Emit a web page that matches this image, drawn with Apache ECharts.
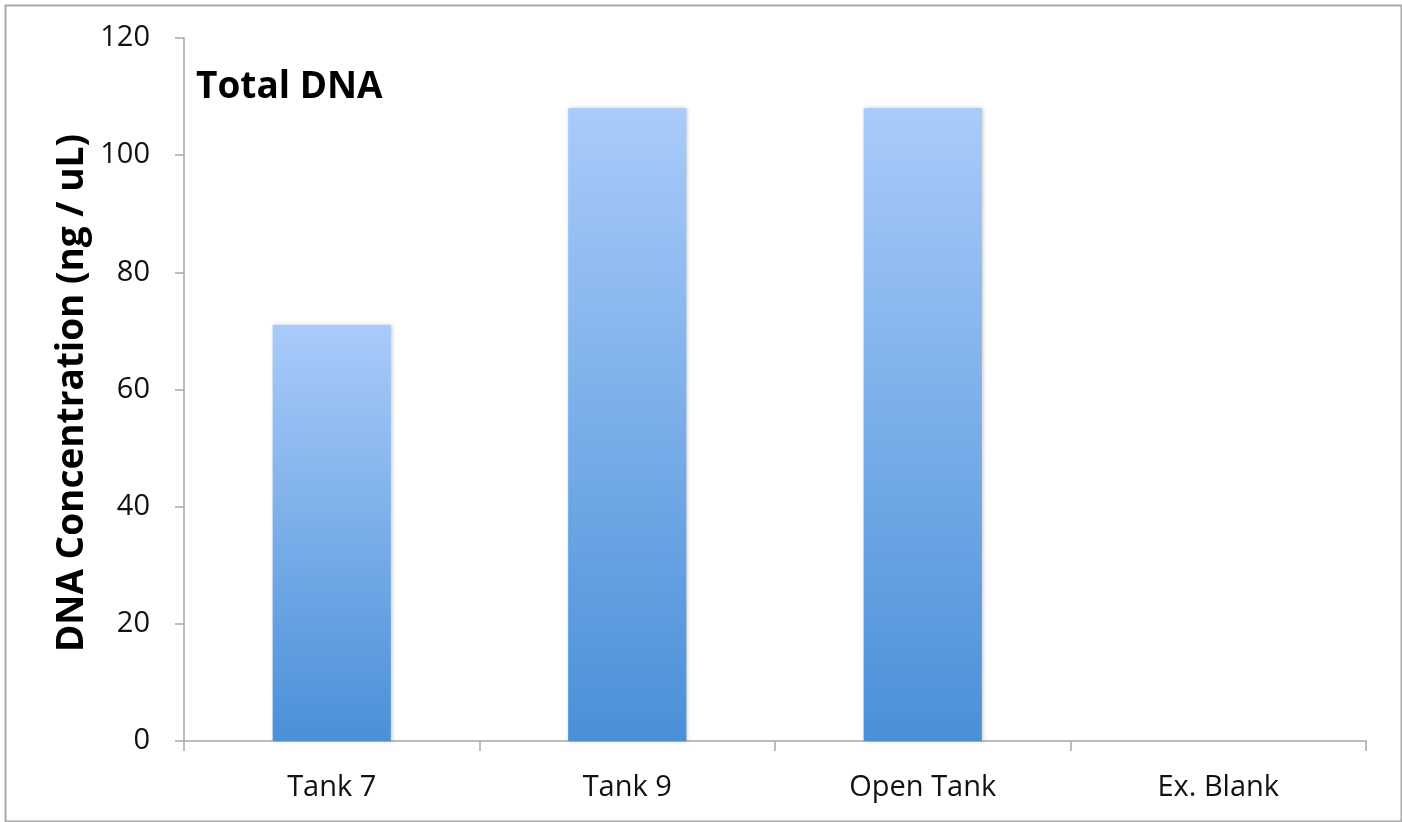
<!DOCTYPE html>
<html>
<head>
<meta charset="utf-8">
<script src="https://cdn.jsdelivr.net/npm/echarts@6/dist/echarts.min.js"></script>
<style>
  html, body { margin: 0; padding: 0; background: #fff; }
  #chart { width: 1402px; height: 822px; }
</style>
</head>
<body>
<div id="chart"></div>
<script>
// Total DNA concentration per sample
const categories = ['Tank 7', 'Tank 9', 'Open Tank', 'Ex. Blank'];
const concentration = [71, 108, 108, 0];
const yTicks = { min: 0, max: 120, interval: 20 };

const FONT = '"Open Sans", Lato, sans-serif';

const chart = echarts.init(document.getElementById('chart'), null, { renderer: 'canvas' });

chart.setOption({
  animation: false,
  backgroundColor: '#ffffff',
  grid: { left: 184, right: 36, top: 38, bottom: 81, containLabel: false },
  xAxis: {
    type: 'category',
    data: categories,
    axisLine: { lineStyle: { color: '#a6a6a6', width: 1.5 } },
    axisTick: { show: true, length: 10, alignWithLabel: false, lineStyle: { color: '#a6a6a6', width: 1.5 } },
    axisLabel: { color: '#111', fontSize: 29, fontFamily: FONT, margin: 32 },
    splitLine: { show: false }
  },
  yAxis: {
    type: 'value',
    min: yTicks.min,
    max: yTicks.max,
    interval: yTicks.interval,
    axisLine: { show: true, lineStyle: { color: '#a6a6a6', width: 1.5 } },
    axisTick: { show: true, length: 9, lineStyle: { color: '#a6a6a6', width: 1.5 } },
    axisLabel: { color: '#111', fontSize: 29, fontFamily: FONT, margin: 34, padding: [4, 0, 0, 0] },
    splitLine: { show: false }
  },
  graphic: [
    {
      type: 'rect',
      left: 3, top: 3,
      shape: { width: 1396, height: 816 },
      style: { fill: 'none', stroke: '#a8a8a8', lineWidth: 2 },
      silent: true, z: -1
    },
    {
      type: 'text',
      left: 196, top: 69,
      style: { text: 'Total DNA', fill: '#000', font: 'bold 37px ' + FONT }
    },
    {
      type: 'text',
      x: 72, y: 393,
      rotation: Math.PI / 2,
      style: {
        text: 'DNA Concentration (ng / uL)',
        fill: '#000',
        font: 'bold 37px ' + FONT,
        align: 'center',
        verticalAlign: 'middle'
      }
    }
  ],
  series: [{
    type: 'bar',
    data: concentration,
    barWidth: '40%',
    itemStyle: {
      color: new echarts.graphic.LinearGradient(0, 0, 0, 1, [
        { offset: 0, color: '#a9cbfa' },
        { offset: 1, color: '#4a90d8' }
      ]),
      shadowColor: 'rgba(0,0,0,0.22)',
      shadowBlur: 4,
      shadowOffsetX: 1,
      shadowOffsetY: 0
    }
  }]
});
</script>
</body>
</html>
